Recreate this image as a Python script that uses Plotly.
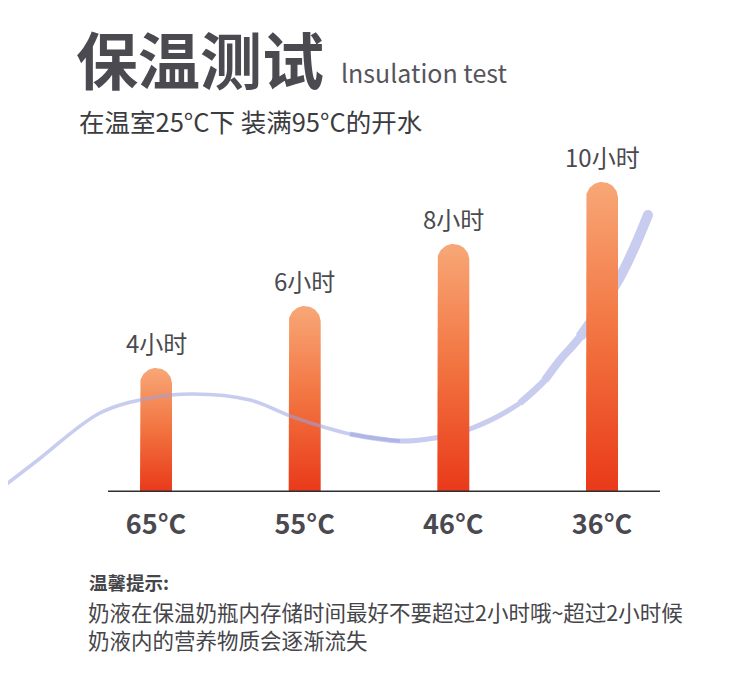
import numpy as np
import plotly.graph_objects as go

# ---------------- data ----------------
temps = ["65°C", "55°C", "46°C", "36°C"]
hours = [4, 6, 8, 10]
hour_labels = ["4小时", "6小时", "8小时", "10小时"]

title = "保温测试"
title_en = "lnsulation test"
subtitle = "在温室25°C下 装满95°C的开水"
tip_head = "温馨提示:"
tip_lines = ["奶液在保温奶瓶内存储时间最好不要超过2小时哦~超过2小时候",
             "奶液内的营养物质会逐渐流失"]

# decorative wave (x in category units, y in hours)
wave_x = [-1.049, -0.794, -0.377, -0.040, 0.249, 0.632, 0.921, 1.305, 1.641,
          1.877, 2.112, 2.448, 2.616, 2.717, 2.852, 3.121, 3.309]
wave_y = [0.097, 1.032, 2.548, 3.032, 3.161, 2.968, 2.419, 1.871, 1.645,
          1.742, 2.032, 2.871, 3.613, 4.258, 5.000, 6.935, 8.935]

# ---------------- layout geometry ----------------
OFF = 8                 # page body margin of the html page
W, H = 750 - OFF, 680 - OFF
base_py = 492 - OFF     # pixel row of the baseline inside the figure
px_per_x = 148.667
x_range = [(OFF - 156) / px_per_x, (OFF - 156 + W) / px_per_x]
px_per_y = 31.0
y_dom = [1 - base_py / H, 1]
y_range = [0, base_py / px_per_y]

bar_half_px = 16
hw = bar_half_px / px_per_x
ry = bar_half_px / px_per_y

fig = go.Figure()

wave_color_solid = "rgb(200,204,239)"
wave_color_alpha = "rgba(155,162,224,0.55)"

def wave_seg(i0, i1, width, color):
    fig.add_trace(go.Scatter(x=wave_x[i0:i1 + 1], y=wave_y[i0:i1 + 1], mode="lines",
                             line=dict(color=color, width=width, shape="spline", smoothing=1.0),
                             hoverinfo="skip", showlegend=False))

# parts of the wave that sit behind the bars (overlapping, thickening)
wave_seg(7, 16, 5, wave_color_solid)
wave_seg(11, 16, 6.5, wave_color_solid)
wave_seg(12, 16, 8, wave_color_solid)
wave_seg(14, 16, 10, wave_color_solid)
fig.add_trace(go.Scatter(x=[wave_x[-1]], y=[wave_y[-1]], mode="markers",
                         marker=dict(color=wave_color_solid, size=10),
                         hoverinfo="skip", showlegend=False))

# bars with rounded tops and vertical gradient
t = np.linspace(np.pi, 0, 40)
for i, v in enumerate(hours):
    cx = i
    xs = [cx - hw, cx - hw] + list(cx + hw * np.cos(t)) + [cx + hw, cx + hw, cx - hw]
    ys = [0, v - ry] + list((v - ry) + ry * np.sin(t)) + [v - ry, 0, 0]
    fig.add_trace(go.Scatter(
        x=xs, y=ys, mode="lines", fill="toself",
        line=dict(width=0, color="rgba(0,0,0,0)"),
        fillgradient=dict(type="vertical",
                          colorscale=[[0, "#E9391A"], [0.5, "#F2733F"], [1, "#F8A777"]]),
        hoverinfo="skip", showlegend=False))

# wave part in front of the first bars (semi-transparent)
fig.add_trace(go.Scatter(x=wave_x[0:9], y=wave_y[0:9], mode="lines",
                         line=dict(color=wave_color_alpha, width=3.6, shape="spline", smoothing=1.0),
                         hoverinfo="skip", showlegend=False))

# baseline
fig.add_shape(type="line", x0=-0.323, x1=3.39, y0=0, y1=0,
              line=dict(color="#2E2F34", width=3), layer="above")

font_cjk = "Noto Sans CJK SC"

# hour labels above bars
for i, v in enumerate(hours):
    fig.add_annotation(x=i, y=v, text=hour_labels[i], showarrow=False,
                       yanchor="middle", yshift=26,
                       font=dict(family=font_cjk, size=24, color="#4a4a4f"))

def ptext(px, py, text, size, color, bold=False):
    # px, py are page (reference) pixel coordinates
    fig.add_annotation(x=(px - OFF) / W, y=1 - (py - OFF) / H, xref="paper", yref="paper",
                       text=f"<b>{text}</b>" if bold else text, showarrow=False,
                       xanchor="left", yanchor="middle", align="left",
                       font=dict(family=font_cjk, size=size, color=color))

ptext(74, 58, title, 62, "#4b4a51", bold=True)
ptext(339, 72, title_en, 25, "#56555b")
ptext(77, 121, subtitle, 25.5, "#3c3c40")
ptext(87, 582, tip_head, 18.5, "#45454a", bold=True)
ptext(86, 625, "<br>".join(tip_lines), 21.5, "#45454a")

fig.update_layout(
    width=W, height=H, margin=dict(l=0, r=0, t=0, b=0),
    paper_bgcolor="white", plot_bgcolor="white",
    xaxis=dict(range=x_range, tickvals=list(range(len(temps))), ticktext=temps,
               showgrid=False, zeroline=False, showline=False,
               ticks="outside", ticklen=9, tickcolor="rgba(0,0,0,0)",
               tickfont=dict(family=font_cjk, size=27, color="#4a4950", weight="bold"),
               fixedrange=True),
    yaxis=dict(range=y_range, domain=y_dom, showgrid=False, zeroline=False,
               showline=False, showticklabels=False, fixedrange=True),
    showlegend=False,
)

fig.write_html("out.html")
